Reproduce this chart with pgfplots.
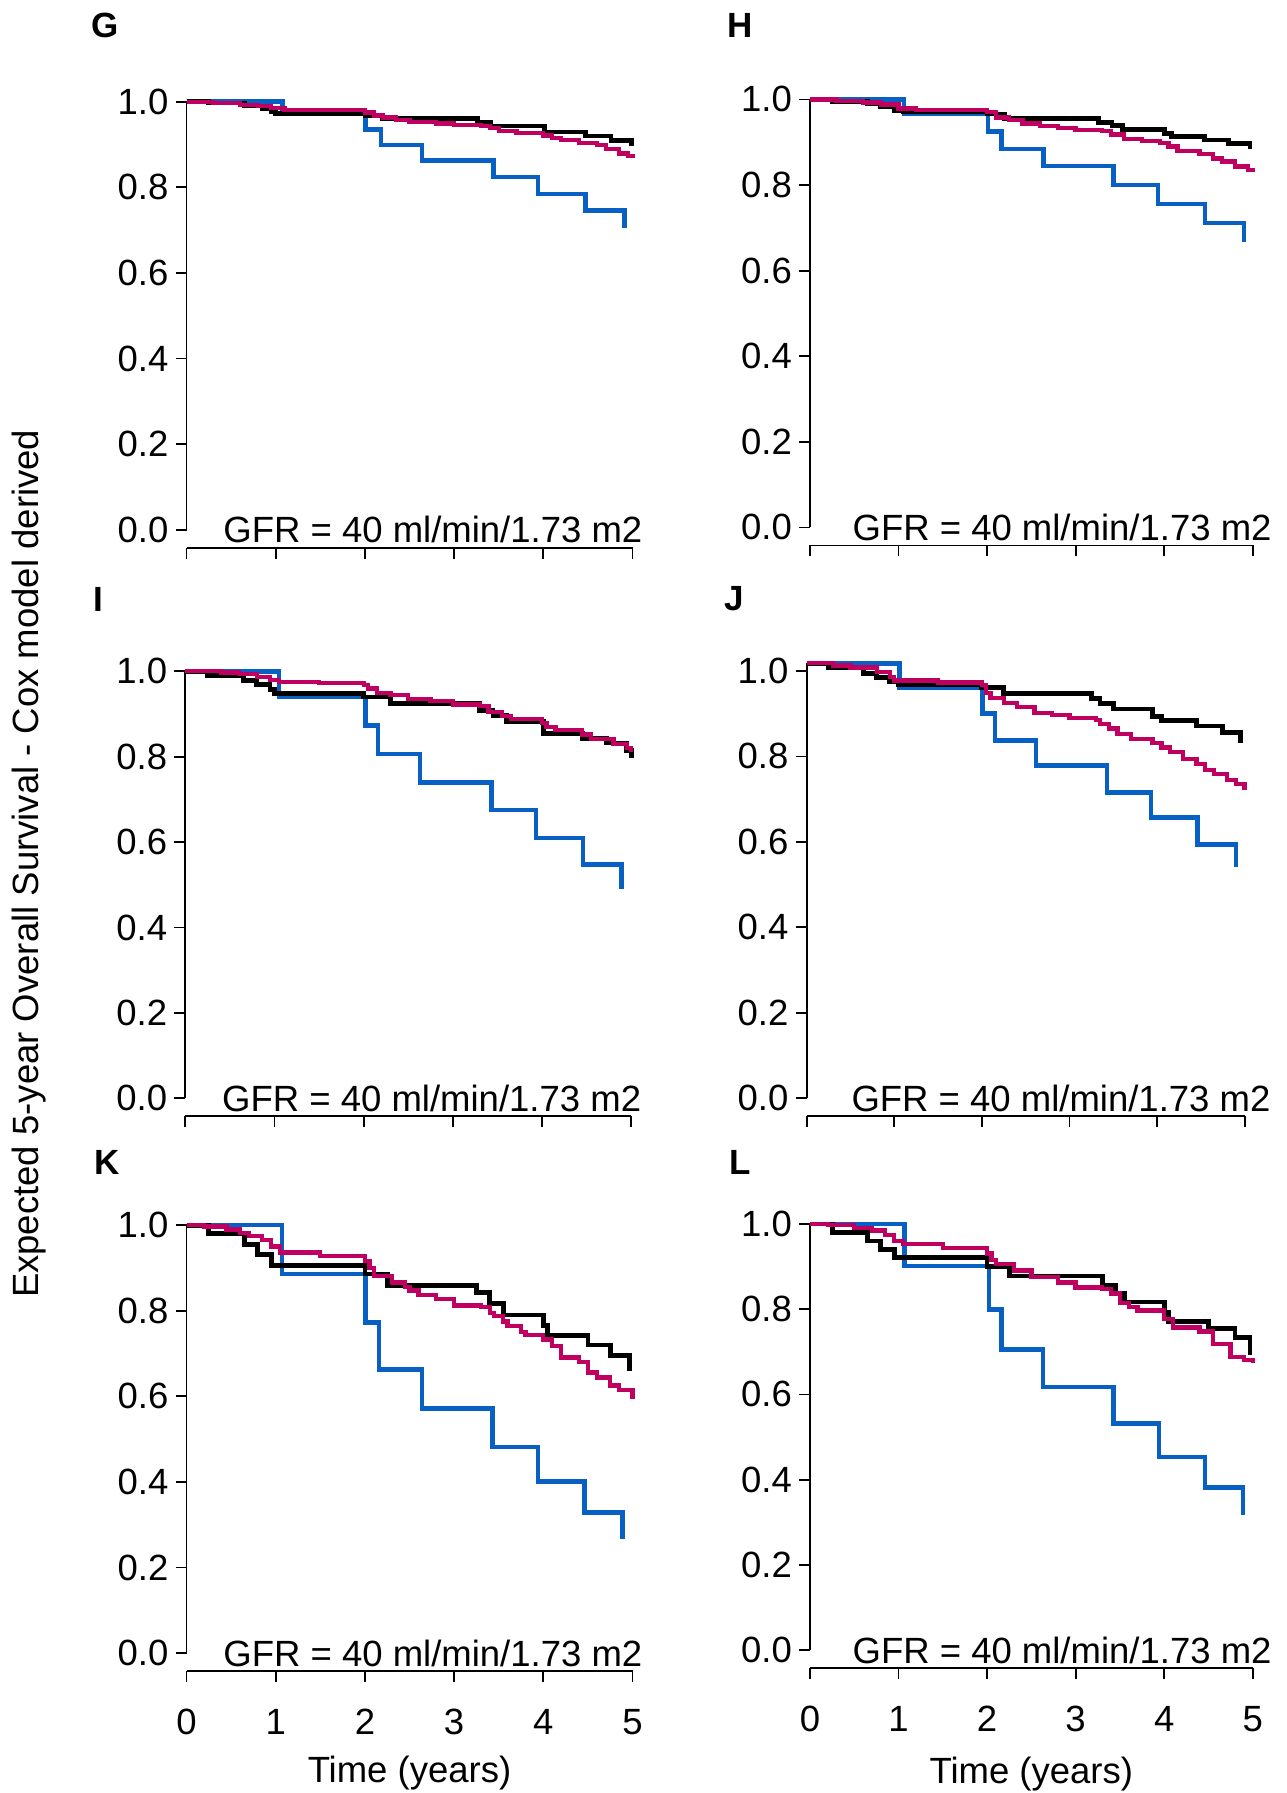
\documentclass[border=0pt]{standalone}
\usepackage{fontspec}
\setmainfont{Liberation Sans}
\usepackage{pgfplots}
\pgfplotsset{compat=1.18}
\definecolor{kmblue}{RGB}{8,96,196}
\definecolor{kmmag}{RGB}{192,0,96}
\newcommand{\bigf}{\fontsize{36.5}{44}\selectfont}
\pgfplotsset{
  km/.style={
    scale only axis, width=446pt, height=428pt,
    xmin=0, xmax=5, ymin=0, ymax=1,
    axis lines*=left, axis line style={-, line width=1.8pt},
    axis x line shift=18pt,
    xtick={0,1,2,3,4,5}, ytick={0,0.2,0.4,0.6,0.8,1},
    tick align=outside, major tick length=11pt,
    tick style={line width=1.8pt, black},
    clip=false,
    /pgf/number format/assume math mode=true,
    tick label style={font=\bigf},
    yticklabel style={anchor=east, inner sep=0pt, xshift=-7pt,
      /pgf/number format/.cd, fixed, fixed zerofill, precision=1},
    xticklabel style={anchor=north, inner sep=0pt, yshift=-27pt},
  },
  notx/.style={xticklabels={}},
  blu/.style={const plot, color=kmblue, line width=4.6pt},
  blk/.style={const plot, color=black, line width=4.8pt},
  mag/.style={const plot, color=kmmag, line width=4.3pt},
}
\newcommand{\gfr}[1]{\node[anchor=base east, inner sep=0pt, font=\bigf, xshift=#1, yshift=-13pt] at (axis cs:5,0) {GFR = 40 ml/min/1.73 m2};}
\begin{document}
\begin{tikzpicture}
\fill[white] (0,0) rectangle (1287pt,-1793pt);
\useasboundingbox (0,0) rectangle (1287pt,-1793pt);

% ---------- G ----------
\begin{axis}[km, notx, at={(186.5pt,-529.7pt)}, anchor=south west]
\addplot[blu] coordinates {(0,1) (1.075,0.971) (2.01,0.935) (2.18,0.899) (2.64,0.862) (3.44,0.824) (3.94,0.784) (4.47,0.746) (4.91,0.704)};
\addplot[blk] coordinates {(0,1) (0.25,0.997) (0.65,0.99) (0.85,0.985) (0.95,0.977) (1.0,0.972) (2.0,0.968) (2.2,0.961) (3.26,0.951) (3.41,0.943) (4.01,0.929) (4.47,0.920) (4.76,0.910) (4.99,0.897)};
\addplot[mag] coordinates {(0,1) (0.3,0.997) (0.6,0.993) (0.8,0.99) (0.95,0.985) (1.1,0.981) (2.0,0.975) (2.1,0.968) (2.2,0.963) (2.35,0.958) (2.5,0.953) (2.8,0.949) (3.0,0.946) (3.3,0.944) (3.4,0.938) (3.5,0.932) (3.7,0.927) (4.0,0.921) (4.1,0.916) (4.2,0.911) (4.4,0.904) (4.6,0.899) (4.7,0.89) (4.85,0.879) (4.95,0.873) (5.0,0.868)};
\gfr{10pt}
\end{axis}

% ---------- H ----------
\begin{axis}[km, notx, width=442.7pt, at={(810pt,-527.4pt)}, anchor=south west]
\addplot[blu] coordinates {(0,1) (1.06,0.966) (2.01,0.925) (2.16,0.884) (2.64,0.844) (3.43,0.800) (3.93,0.756) (4.46,0.711) (4.90,0.666)};
\addplot[blk] coordinates {(0,1) (0.25,0.995) (0.65,0.99) (0.8,0.983) (0.95,0.975) (1.05,0.971) (2.0,0.966) (2.2,0.956) (3.26,0.946) (3.41,0.939) (3.53,0.930) (4.0,0.920) (4.08,0.914) (4.46,0.905) (4.73,0.897) (4.97,0.884)};
\addplot[mag] coordinates {(0,1) (0.3,0.997) (0.6,0.993) (0.8,0.988) (1.0,0.979) (1.2,0.976) (2.0,0.971) (2.1,0.958) (2.25,0.952) (2.4,0.944) (2.6,0.938) (2.8,0.933) (3.0,0.929) (3.3,0.926) (3.4,0.918) (3.55,0.908) (3.75,0.903) (3.95,0.898) (4.05,0.89) (4.15,0.879) (4.4,0.872) (4.55,0.862) (4.65,0.855) (4.8,0.843) (4.95,0.835) (5.0,0.830)};
\gfr{19pt}
\end{axis}

% ---------- I ----------
\begin{axis}[km, notx, height=427pt, at={(185.3pt,-1098.3pt)}, anchor=south west]
\addplot[blu] coordinates {(0,1) (1.05,0.940) (2.02,0.873) (2.16,0.806) (2.63,0.740) (3.43,0.675) (3.93,0.610) (4.46,0.547) (4.89,0.491)};
\addplot[blk] coordinates {(0,1) (0.25,0.990) (0.65,0.979) (0.8,0.969) (0.95,0.958) (1.0,0.948) (2.0,0.94) (2.3,0.925) (3.3,0.908) (3.45,0.896) (3.6,0.883) (4.02,0.855) (4.45,0.843) (4.72,0.832) (4.95,0.815) (5.0,0.796)};
\addplot[mag] coordinates {(0,1) (0.4,0.997) (0.6,0.993) (0.8,0.987) (0.95,0.98) (1.05,0.975) (1.5,0.972) (2.0,0.968) (2.05,0.96) (2.15,0.95) (2.3,0.944) (2.5,0.935) (2.75,0.93) (3.0,0.922) (3.3,0.918) (3.4,0.905) (3.55,0.896) (3.65,0.888) (4.0,0.879) (4.05,0.87) (4.15,0.862) (4.45,0.852) (4.55,0.842) (4.8,0.83) (4.95,0.82) (5.0,0.81)};
\gfr{10pt}
\end{axis}

% ---------- J ----------
\begin{axis}[km, notx, width=438pt, height=434.7pt, ymin=-0.018, ymax=1,
  ytick={-0.018,0.182,0.382,0.582,0.782,0.982},
  yticklabels={0.0,0.2,0.4,0.6,0.8,1.0},
  at={(806.6pt,-1098pt)}, anchor=south west]
\addplot[blu] coordinates {(0,1) (1.06,0.943) (2.01,0.882) (2.15,0.819) (2.62,0.760) (3.43,0.698) (3.93,0.639) (4.46,0.575) (4.90,0.522)};
\addplot[blk] coordinates {(0,1) (0.25,0.991) (0.65,0.977) (0.8,0.966) (0.95,0.956) (1.05,0.951) (2.0,0.943) (2.25,0.930) (3.25,0.918) (3.35,0.905) (3.5,0.893) (3.95,0.876) (4.05,0.866) (4.45,0.853) (4.75,0.838) (4.95,0.813)};
\addplot[mag] coordinates {(0,1) (0.3,0.995) (0.5,0.99) (0.8,0.979) (0.95,0.968) (1.0,0.96) (1.5,0.955) (2.0,0.950) (2.05,0.93) (2.1,0.918) (2.25,0.907) (2.4,0.897) (2.6,0.884) (2.8,0.879) (3.0,0.872) (3.3,0.868) (3.35,0.858) (3.45,0.847) (3.55,0.834) (3.7,0.822) (3.95,0.813) (4.05,0.803) (4.15,0.792) (4.3,0.776) (4.45,0.765) (4.55,0.750) (4.65,0.740) (4.8,0.727) (4.9,0.717) (5.0,0.704)};
\node[anchor=base east, inner sep=0pt, font=\bigf, xshift=26pt, yshift=-13pt] at (axis cs:5,-0.018) {GFR = 40 ml/min/1.73 m2};
\end{axis}

% ---------- K ----------
\begin{axis}[km, at={(186.5pt,-1653.1pt)}, anchor=south west]
\addplot[blu] coordinates {(0,1) (1.07,0.886) (2.01,0.772) (2.16,0.663) (2.64,0.571) (3.43,0.482) (3.94,0.401) (4.46,0.329) (4.89,0.267)};
\addplot[blk] coordinates {(0,1) (0.25,0.980) (0.65,0.955) (0.8,0.931) (0.95,0.906) (2.0,0.886) (2.25,0.859) (3.25,0.842) (3.4,0.817) (3.55,0.790) (4.0,0.765) (4.05,0.743) (4.5,0.720) (4.75,0.696) (4.97,0.658)};
\addplot[mag] coordinates {(0,1) (0.2,0.997) (0.45,0.99) (0.6,0.982) (0.7,0.975) (0.85,0.965) (0.95,0.95) (1.05,0.936) (1.5,0.928) (2.0,0.916) (2.05,0.9) (2.1,0.881) (2.3,0.866) (2.45,0.855) (2.5,0.847) (2.6,0.837) (2.8,0.827) (3.0,0.812) (3.3,0.808) (3.4,0.795) (3.45,0.787) (3.55,0.775) (3.6,0.765) (3.75,0.75) (3.8,0.743) (4.0,0.733) (4.1,0.718) (4.2,0.691) (4.4,0.681) (4.5,0.656) (4.6,0.644) (4.75,0.625) (4.85,0.614) (5.0,0.594)};
\gfr{10pt}
\node[font=\bigf, inner sep=0pt] at (axis description cs:0.5,-0.28) {Time (years)};
\end{axis}

% ---------- L ----------
\begin{axis}[km, width=442.7pt, height=426pt, at={(810pt,-1650pt)}, anchor=south west]
\addplot[blu] coordinates {(0,1) (1.07,0.901) (2.02,0.799) (2.16,0.706) (2.63,0.617) (3.43,0.532) (3.94,0.453) (4.46,0.381) (4.89,0.317)};
\addplot[blk] coordinates {(0,1) (0.25,0.980) (0.65,0.960) (0.8,0.941) (0.95,0.921) (2.0,0.901) (2.25,0.878) (3.3,0.856) (3.45,0.837) (3.55,0.817) (4.0,0.792) (4.05,0.772) (4.5,0.755) (4.8,0.733) (4.97,0.693)};
\addplot[mag] coordinates {(0,1) (0.2,0.997) (0.5,0.99) (0.7,0.985) (0.85,0.975) (0.95,0.96) (1.05,0.953) (1.5,0.943) (2.0,0.931) (2.05,0.915) (2.1,0.906) (2.3,0.891) (2.5,0.876) (2.8,0.863) (3.0,0.851) (3.3,0.848) (3.4,0.837) (3.5,0.815) (3.6,0.805) (3.7,0.797) (4.0,0.777) (4.1,0.757) (4.4,0.748) (4.55,0.718) (4.75,0.688) (4.9,0.68) (5.0,0.673)};
\gfr{19pt}
\node[font=\bigf, inner sep=0pt] at (axis description cs:0.5,-0.292) {Time (years)};
\end{axis}

% panel letters and common y label
\node[font=\fontsize{35}{42}\selectfont\bfseries] at (105.5pt,-25.5pt) {G};
\node[font=\fontsize{35}{42}\selectfont\bfseries] at (740pt,-25.5pt) {H};
\node[font=\fontsize{35}{42}\selectfont\bfseries] at (98pt,-599pt) {I};
\node[font=\fontsize{35}{42}\selectfont\bfseries] at (734.5pt,-599pt) {J};
\node[font=\fontsize{35}{42}\selectfont\bfseries] at (107.5pt,-1162pt) {K};
\node[font=\fontsize{35}{42}\selectfont\bfseries] at (740pt,-1162pt) {L};
\node[rotate=90, font=\bigf, inner sep=0pt] at (28.6pt,-863.8pt) {Expected 5-year Overall Survival - Cox model derived};
\end{tikzpicture}
\end{document}
